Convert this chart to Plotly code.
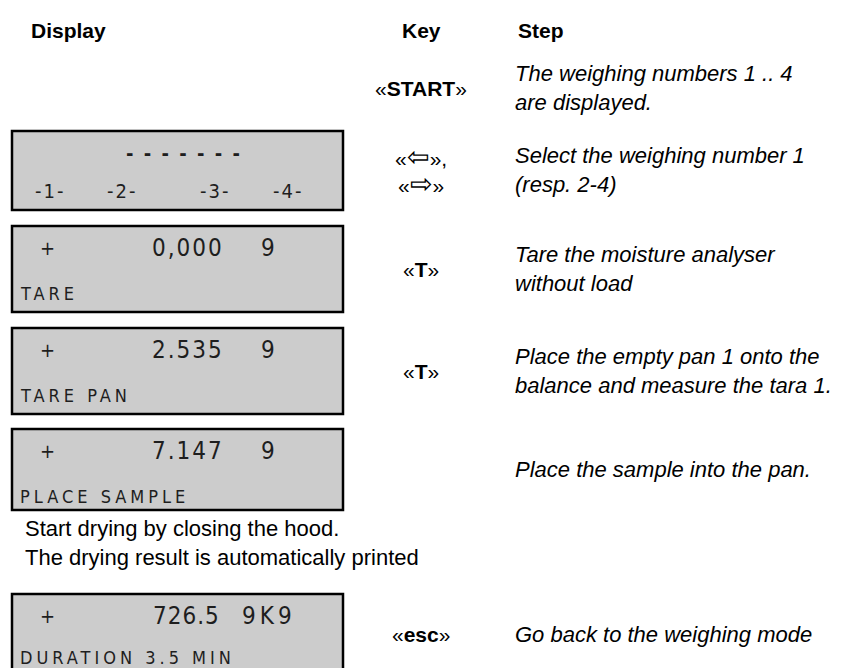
import plotly.graph_objects as go

# ---------------- data ----------------
headers = ["Display", "Key", "Step"]

lcd_sign = ["", "+", "+", "+", "+"]
lcd_value = ["- - - - - - -", "0,000", "2.535", "7.147", "726.5"]
lcd_unit = ["", "9", "9", "9", "9K9"]
lcd_text = ["", "TARE", "TARE PAN", "PLACE SAMPLE", "DURATION 3.5 MIN"]
weigh_labels = ["-1-", "-2-", "-3-", "-4-"]

keys = ["«<b>START</b>»",
        '«<span style="font-size:27px">⇦</span>»,<br>«<span style="font-size:27px">⇨</span>»',
        "«<b>T</b>»", "«<b>T</b>»", "", "«<b>esc</b>»"]
steps = [
    "The weighing numbers 1 .. 4<br>are displayed.",
    "Select the weighing number 1<br>(resp. 2-4)",
    "Tare the moisture analyser<br>without load",
    "Place the empty pan 1 onto the<br>balance and measure the tara 1.",
    "Place the sample into the pan.",
    "Go back to the weighing mode",
]
note = "Start drying by closing the hood.<br>The drying result is automatically printed"

# ---------------- layout geometry ----------------
W, H = 846, 668
box_x0, box_x1 = 4, 335
box_tops = [123, 218, 320, 421, 586]
box_bots = [202, 304, 406, 502, 674]
row_y = [80, 162, 261, 363, 461, 626]
key_x = 413
step_x = 505
weigh_x = [42, 114, 207, 280]

LCD_FONT = "DejaVu Sans Condensed, Liberation Sans Narrow, sans-serif"
TXT_FONT = "Liberation Sans, Arial, Helvetica, sans-serif"
LCD_COL = "#1e1e1e"

fig = go.Figure()
fig.add_trace(go.Scatter(x=[0, W], y=[0, H], mode="markers", marker=dict(opacity=0),
                         hoverinfo="skip", showlegend=False))

shapes = []
ann = []


def A(x, y, text, size, xanchor="left", family=TXT_FONT, color="#000", yanchor="middle", align="left"):
    ann.append(dict(x=x, y=y, xref="x", yref="y", text=text, showarrow=False,
                    xanchor=xanchor, yanchor=yanchor, align=align,
                    font=dict(family=family, size=size, color=color)))


def sp(s, ls):
    return f'<span style="letter-spacing:{ls}px">{s}</span>'


# headers
A(21, 22, "<b>" + headers[0] + "</b>", 21)
A(key_x, 22, "<b>" + headers[1] + "</b>", 21, xanchor="center")
A(508, 22, "<b>" + headers[2] + "</b>", 21)

# boxes
for t, b in zip(box_tops, box_bots):
    shapes.append(dict(type="rect", xref="x", yref="y", x0=box_x0, x1=box_x1, y0=t, y1=b,
                       fillcolor="#cccccc", line=dict(color="#000", width=2.5), layer="below"))

for i in range(5):
    t = box_tops[i]
    if i == 0:
        A(176, t + 22, "<b>" + sp(lcd_value[0], 2) + "</b>", 20, xanchor="center",
          family=LCD_FONT, color=LCD_COL)
        for x, lab in zip(weigh_x, weigh_labels):
            A(x, t + 60, sp(lab, 2), 20, xanchor="center", family=LCD_FONT, color=LCD_COL)
        continue
    y1 = t + 22
    y2 = t + 67 if i < 4 else t + 63
    A(39, y1, lcd_sign[i], 20, xanchor="center", family=LCD_FONT, color=LCD_COL)
    if i < 4:
        A(218, y1, sp(lcd_value[i], 2), 24, xanchor="right", family=LCD_FONT, color=LCD_COL)
        A(251, y1, lcd_unit[i], 24, xanchor="left", family=LCD_FONT, color=LCD_COL)
    else:
        A(214, y1, sp(lcd_value[i], 1), 24, xanchor="right", family=LCD_FONT, color=LCD_COL)
        A(232, y1, sp(lcd_unit[i], 4), 24, xanchor="left", family=LCD_FONT, color=LCD_COL)
    A(10, y2, sp(lcd_text[i], 4), 18, xanchor="left", family=LCD_FONT, color=LCD_COL)

# keys and steps
for k, s, y in zip(keys, steps, row_y):
    if k:
        A(key_x, y, k, 21, xanchor="center", align="center")
    A(step_x, y, "<i>" + s + "</i>", 22)

# note
A(15, 535, note, 22)

fig.update_layout(
    width=W, height=H, margin=dict(l=0, r=0, t=0, b=0),
    paper_bgcolor="white", plot_bgcolor="white",
    xaxis=dict(range=[0, W], visible=False, fixedrange=True),
    yaxis=dict(range=[H, 0], visible=False, fixedrange=True),
    shapes=shapes, annotations=ann, showlegend=False,
)
fig.write_html("out.html", config={"displayModeBar": False})
